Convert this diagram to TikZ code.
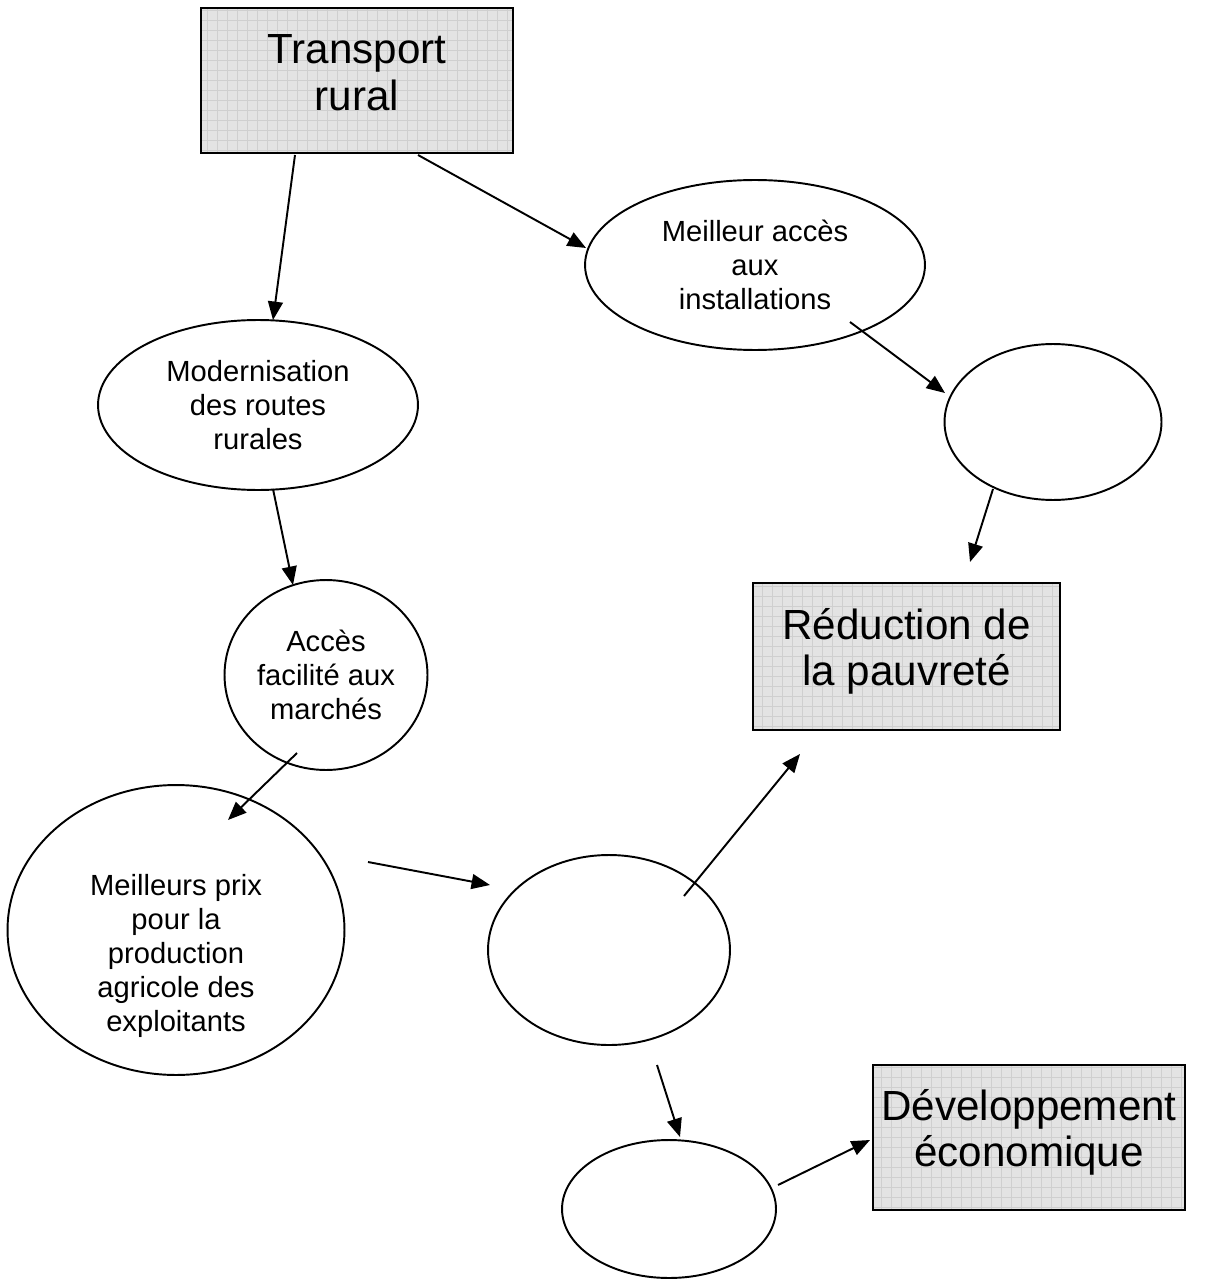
\documentclass[tikz,border=0pt]{standalone}
\usepackage{fontspec}
\setmainfont{Liberation Sans}
\usetikzlibrary{calc,arrows.meta,shapes.geometric}
\begin{document}
\begin{tikzpicture}[x=0.02cm,y=-0.02cm,
  gridbox/.style={rectangle, draw=black, line width=1.2pt, fill=black!11, inner sep=0pt,
    align=center, font=\fontsize{24}{26.6}\selectfont,
    path picture={\draw[black!19, line width=0.35pt]
      (path picture bounding box.south west) grid[step=0.2cm] (path picture bounding box.north east);}},
  ell/.style={ellipse, draw=black, line width=1.1pt, inner sep=0pt, align=center,
    font=\fontsize{16.6}{19.3}\selectfont},
  arr/.style={line width=1.1pt, -{Triangle[length=10.5pt,width=8.5pt]}}
]
\useasboundingbox (0,0) rectangle (1228,1280);

% boxes
\node[gridbox, minimum width=6.24cm, minimum height=2.9cm, text depth=0.32cm] (tr) at (357,80.5) {Transport\\rural};
\node[gridbox, minimum width=6.14cm, minimum height=2.94cm, text depth=0.38cm] (red) at (906.5,656.5) {Réduction de\\la pauvreté};
\node[gridbox, minimum width=6.24cm, minimum height=2.9cm, text depth=0.38cm] (dev) at (1029,1137.5) {Développement\\économique};

% ellipses
\node[ell, minimum width=6.8cm, minimum height=3.4cm] (acc) at (755,265) {Meilleur accès\\aux\\installations};
\node[ell, minimum width=6.4cm, minimum height=3.4cm] (mod) at (258,405) {Modernisation\\des routes\\rurales};
\node[ell, minimum width=4.34cm, minimum height=3.12cm] (e1) at (1053,422) {};
\node[ell, minimum width=4.06cm, minimum height=3.8cm] (marc) at (326,675) {Accès\\facilité aux\\marchés};
\node[ell, minimum width=6.74cm, minimum height=5.8cm] (prix) at (176,930) {};
\node[ell, draw=none, fill=none] (prixtxt) at ($(prix)+(0,26)$) {Meilleurs prix\\pour la\\production\\agricole des\\exploitants};
\node[ell, minimum width=4.84cm, minimum height=3.8cm] (e2) at (609,950) {};
\node[ell, minimum width=4.28cm, minimum height=2.76cm] (e3) at (669,1209) {};

% connectors
\draw[arr] ($(tr)+(-62,74.5)$) -- ($(mod)+(15,-85)$);
\draw[arr] ($(tr)+(61,74.5)$) -- ($(acc)+(-169,-17)$);
\draw[arr] ($(acc)+(95,57)$) -- ($(e1)+(-108,-29)$);
\draw[arr] ($(e1)+(-60,67)$) -- ($(red)+(63.5,-94.5)$);
\draw[arr] ($(mod)+(15,84)$) -- ($(marc)+(-33,-90)$);
\draw[arr] ($(marc)+(-29,78)$) -- ($(prix)+(52,-110)$);
\draw[arr] ($(prix)+(192,-68)$) -- ($(e2)+(-119,-65)$);
\draw[arr] ($(e2)+(75,-54)$) -- ($(red)+(-106.5,97.5)$);
\draw[arr] ($(e2)+(48,115)$) -- ($(e3)+(11,-72)$);
\draw[arr] ($(e3)+(109,-24)$) -- ($(dev)+(-159,2.5)$);
\end{tikzpicture}
\end{document}
